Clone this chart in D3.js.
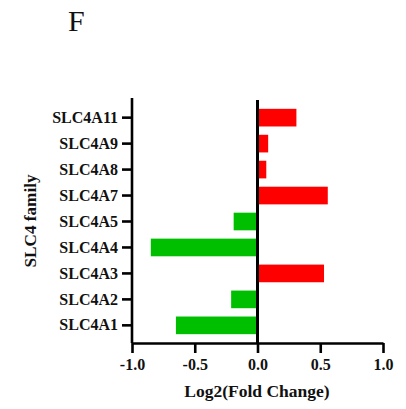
<!DOCTYPE html>
<html>
  <head>
    <meta charset="utf-8">
    <title>SLC4 family</title>
  </head>
  <body style="margin:0; background:#fff;">
    <div id="container"></div>
    <script src="https://cdn.jsdelivr.net/npm/d3@7"></script>
    <script>
    var genes = ["SLC4A1", "SLC4A2", "SLC4A3", "SLC4A4", "SLC4A5", "SLC4A7", "SLC4A8", "SLC4A9", "SLC4A11"];
    var log2fc = [-0.65, -0.21, 0.53, -0.85, -0.19, 0.56, 0.07, 0.085, 0.31];
    var xTicks = [-1.0, -0.5, 0.0, 0.5, 1.0];

    var FONT = "'Liberation Serif', 'Times New Roman', serif";

    function main() {
      var width = 406, height = 409;
      var svg = d3.select("#container").append("svg")
        .attr("width", width)
        .attr("height", height)
        .style("font-family", FONT);

      var x = d3.scaleLinear().domain([-1, 1]).range([132, 383]);
      var y = d3.scaleBand()
        .domain(genes)
        .range([343, 100])
        .paddingInner(0.32)
        .paddingOuter(0.34);

      var data = genes.map(function(g, i) { return { gene: g, v: log2fc[i] }; });

      // bars
      svg.selectAll("rect.bar")
        .data(data)
        .enter().append("rect")
        .attr("class", "bar")
        .attr("x", function(d) { return d.v >= 0 ? x(0) + 1.5 : x(d.v); })
        .attr("width", function(d) { return Math.abs(x(d.v) - x(0)) - 1.5; })
        .attr("y", function(d) { return y(d.gene); })
        .attr("height", y.bandwidth())
        .attr("fill", function(d) { return d.v >= 0 ? "#ff0000" : "#00bf00"; });

      // zero line
      svg.append("line")
        .attr("x1", x(0)).attr("x2", x(0))
        .attr("y1", 100).attr("y2", 343)
        .attr("stroke", "#000").attr("stroke-width", 3);

      // y axis
      var yAxis = svg.append("g")
        .attr("transform", "translate(132,0)")
        .call(d3.axisLeft(y).tickSize(10).tickPadding(4));
      yAxis.attr("font-family", null);
      yAxis.select(".domain").attr("d", "M0,98V343").attr("stroke-width", 2.6);
      yAxis.selectAll(".tick line").attr("stroke-width", 2.6);
      yAxis.selectAll(".tick text")
        .attr("fill", "#111")
        .style("font-family", FONT).style("font-size", "16px").style("font-weight", "bold");

      // x axis
      var xAxis = svg.append("g")
        .attr("transform", "translate(0,343)")
        .call(d3.axisBottom(x).tickValues(xTicks).tickSize(10).tickPadding(6).tickSizeOuter(0));
      xAxis.attr("font-family", null);
      xAxis.select(".domain").attr("stroke-width", 2.6);
      xAxis.selectAll(".tick line").attr("stroke-width", 2.6);
      xAxis.selectAll(".tick text")
        .attr("fill", "#111")
        .style("font-family", FONT).style("font-size", "16px").style("font-weight", "bold")
        .text(function(d) { return d3.format(".1f")(d).replace("\u2212", "-"); });

      // titles
      svg.append("text")
        .attr("x", 257).attr("y", 397)
        .attr("text-anchor", "middle")
        .attr("fill", "#111")
        .style("font-family", FONT).style("font-size", "17.5px").style("font-weight", "bold")
        .text("Log2(Fold Change)");

      svg.append("text")
        .attr("transform", "translate(36,221) rotate(-90)")
        .attr("text-anchor", "middle")
        .attr("fill", "#111")
        .style("font-family", FONT).style("font-size", "17.2px").style("font-weight", "bold")
        .text("SLC4 family");

      svg.append("text")
        .attr("x", 68).attr("y", 31)
        .attr("fill", "#111")
        .style("font-family", FONT).style("font-size", "30px")
        .text("F");
    }

    window.onload = main;
    </script>
  </body>
</html>
